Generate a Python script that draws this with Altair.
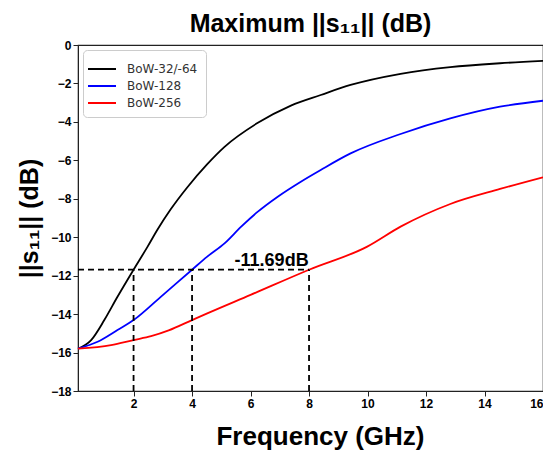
import altair as alt
import pandas as pd

# ---- data ----
series_names = ["BoW-32/-64", "BoW-128", "BoW-256"]
series_colors = ["#000000", "#0000ff", "#ff0000"]

black_f = [0.1, 0.55, 1.0, 1.45, 2.0, 2.48, 2.82, 3.27, 3.84, 4.52, 5.11, 6.25, 7.38, 8.4, 9.42, 11.13, 12.83, 14.53, 16.0]
black_db = [-15.8, -15.35, -14.31, -13.1, -11.69, -10.49, -9.6, -8.55, -7.4, -6.2, -5.3, -4.05, -3.15, -2.6, -2.08, -1.5, -1.15, -0.95, -0.83]

blue_f = [0.1, 0.77, 1.45, 2.0, 2.93, 4.0, 4.52, 5.11, 5.68, 6.25, 6.93, 7.72, 8.4, 9.42, 11.13, 12.83, 14.53, 16.0]
blue_db = [-15.8, -15.44, -14.83, -14.31, -13.1, -11.69, -11.01, -10.32, -9.45, -8.67, -7.89, -7.11, -6.5, -5.64, -4.63, -3.82, -3.21, -2.9]

red_f = [0.1, 1.23, 2.0, 2.6, 3.2, 4.0, 4.52, 6.0, 8.0, 9.99, 11.13, 12.83, 14.53, 16.0]
red_db = [-15.8, -15.61, -15.35, -15.15, -14.85, -14.31, -13.96, -13.0, -11.69, -10.49, -9.45, -8.27, -7.49, -6.88]

marker_freqs = [2, 4, 8]
marker_level = -11.69
marker_label = "-11.69dB"
x_ticks = [2, 4, 6, 8, 10, 12, 14, 16]
y_ticks = [0, -2, -4, -6, -8, -10, -12, -14, -16, -18]

rows = []
for name, fs, ds in zip(series_names, [black_f, blue_f, red_f], [black_db, blue_db, red_db]):
    for f, d in zip(fs, ds):
        rows.append({"series": name, "f": f, "db": d})
df = pd.DataFrame(rows)

FONT = "Arial, Liberation Sans"

xs = alt.Scale(domain=[0.1, 16], nice=False, zero=False)
ys = alt.Scale(domain=[-18, 0], nice=False, zero=False)

x_axis = alt.Axis(values=x_ticks, title="Frequency (GHz)", titleFontSize=26, titlePadding=14,
                  titleX=242, labelOverlap=False)
y_axis = alt.Axis(values=y_ticks, title="||s₁₁|| (dB)", titleFontSize=25, titlePadding=8,
                  labelOverlap=False)

lines = alt.Chart(df).mark_line(strokeWidth=1.8, interpolate="monotone").encode(
    x=alt.X("f:Q", scale=xs, axis=x_axis),
    y=alt.Y("db:Q", scale=ys, axis=y_axis),
    color=alt.Color("series:N",
                    scale=alt.Scale(domain=series_names, range=series_colors),
                    sort=series_names,
                    legend=alt.Legend(title=None, orient="top-left", offset=5, padding=8,
                                      strokeColor="#cccccc", cornerRadius=4, fillColor="white",
                                      labelFont="DejaVu Sans", labelFontSize=12, labelColor="#333333",
                                      labelFontWeight="normal",
                                      symbolType="M-1.4,0L1.4,0", symbolSize=400, symbolStrokeWidth=2,
                                      labelOffset=14, rowPadding=0)),
)

hdf = pd.DataFrame({"f": [0.1], "f2": [max(marker_freqs)], "db": [marker_level]})
vdf = pd.DataFrame({"f": marker_freqs, "db": [-18] * len(marker_freqs), "db2": [marker_level] * len(marker_freqs)})

hrule = alt.Chart(hdf).mark_rule(strokeDash=[6, 4], strokeWidth=1.8, color="black").encode(
    x=alt.X("f:Q", scale=xs, axis=x_axis), x2="f2:Q", y=alt.Y("db:Q", scale=ys, axis=y_axis))
vrule = alt.Chart(vdf).mark_rule(strokeDash=[6, 4], strokeWidth=1.8, color="black").encode(
    x=alt.X("f:Q", scale=xs, axis=x_axis), y=alt.Y("db:Q", scale=ys, axis=y_axis), y2="db2:Q")

tdf = pd.DataFrame({"f": [6.72], "db": [marker_level], "t": [marker_label]})
label = alt.Chart(tdf).mark_text(font=FONT, fontSize=18, fontWeight="bold", color="black",
                                 baseline="alphabetic", align="center", dy=-4).encode(
    x=alt.X("f:Q", scale=xs, axis=x_axis), y=alt.Y("db:Q", scale=ys, axis=y_axis), text="t:N")

chart = alt.layer(lines, vrule, hrule, label).properties(
    width=465, height=346,
    autosize=alt.AutoSizeParams(type="none"),
    padding={"left": 70, "top": 37, "right": 0, "bottom": 60},
    title=alt.Title("Maximum ||s₁₁|| (dB)", font=FONT, fontSize=25, fontWeight="bold",
                    color="black", anchor="middle", offset=2),
).configure_view(stroke="#222222", strokeWidth=1.2).configure_axis(
    grid=False, domainColor="#222222", tickColor="#222222", tickSize=5, labelOverlap=False,
    labelFont=FONT, labelFontSize=12, labelFontWeight="bold", labelColor="black",
    titleFont=FONT, titleFontWeight="bold", titleColor="black",
)

chart.save("out.html", embed_options={"renderer": "svg", "actions": False})
